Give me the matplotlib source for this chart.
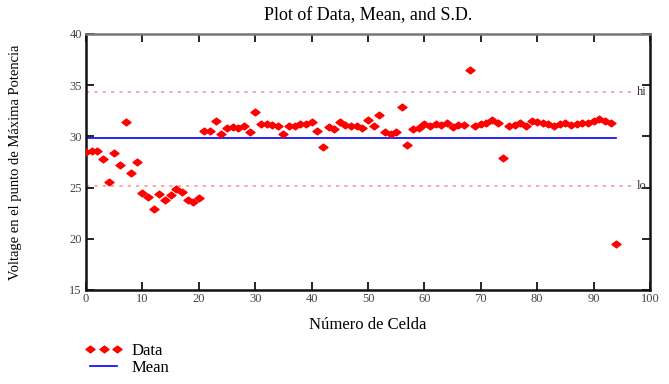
import matplotlib
matplotlib.use("Agg")
import matplotlib.pyplot as plt
import numpy as np
from matplotlib.path import Path

# valores
celda = list(range(95))
voltaje = [28.5, 28.6, 28.6, 27.8, 25.5, 28.4, 27.2, 31.4, 26.4, 27.5,
           24.5, 24.05, 22.9, 24.35, 23.8, 24.25, 24.85, 24.6, 23.8, 23.6,
           23.95, 30.55, 30.5, 31.5, 30.2, 30.85, 30.95, 30.8, 31.0, 30.45,
           32.4, 31.2, 31.2, 31.1, 31.0, 30.2, 31.0, 31.0, 31.2, 31.2,
           31.4, 30.5, 29.0, 30.9, 30.7, 31.45, 31.1, 31.05, 31.05, 30.8,
           31.6, 31.0, 32.1, 30.45, 30.2, 30.45, 32.9, 29.2, 30.7, 30.8,
           31.2, 31.05, 31.2, 31.1, 31.35, 30.95, 31.1, 31.1, 36.5, 31.05,
           31.2, 31.35, 31.6, 31.3, 27.9, 31.05, 31.1, 31.3, 31.05, 31.5,
           31.4, 31.3, 31.2, 31.05, 31.2, 31.35, 31.1, 31.2, 31.3, 31.35,
           31.5, 31.65, 31.5, 31.35, 19.5]
media = 29.85
hi = 34.3
lo = 25.2

xticks = list(range(0, 101, 10))
yticks = list(range(15, 41, 5))

plt.rcParams['font.family'] = ['Liberation Serif', 'DejaVu Serif']

# rombo un poco aplastado como en el original
rombo = Path([(-1, 0), (0, 0.75), (1, 0), (0, -0.75), (-1, 0)],
             [Path.MOVETO, Path.LINETO, Path.LINETO, Path.LINETO, Path.CLOSEPOLY])

fig = plt.figure(figsize=(6.69, 3.84), dpi=100)
ax = fig.add_axes([0.1286, 0.2448, 0.8430, 0.6667])

ax.plot(celda, voltaje, linestyle='none', marker=rombo, markersize=6.5,
        color='#ff0000', label='Data', zorder=3)
ax.plot([celda[0], celda[-1]], [media, media], color='#0000ff', lw=1.2,
        label='Mean', zorder=2)
ax.plot([0, 97.6], [hi, hi], color='#ff9a9a', lw=1.2, linestyle=(0, (2, 3)))
ax.plot([0, 97.6], [lo, lo], color='#ff9a9a', lw=1.2, linestyle=(0, (2, 3)))
ax.text(97.7, hi, 'hi', fontsize=9, va='center', ha='left', color='#333333')
ax.text(97.7, lo, 'lo', fontsize=9, va='center', ha='left', color='#333333')

ax.set_xlim(0, 100)
ax.set_ylim(15, 40)
ax.set_xticks(xticks)
ax.set_yticks(yticks)
ax.tick_params(direction='in', length=6, width=1.2, top=True, right=True,
               labelsize=9, labelcolor='#444444', pad=2)
ax.tick_params(axis='y', labelleft=True, pad=3)

for s in ['left', 'right', 'bottom']:
    ax.spines[s].set_linewidth(1.8)
    ax.spines[s].set_color('#111111')
ax.spines['top'].set_linewidth(1.8)
ax.spines['top'].set_color('#777777')

ax.set_title('Plot of Data, Mean, and S.D.', fontsize=13, pad=10)
ax.set_xlabel('Número de Celda', fontsize=12, labelpad=9)
ax.set_ylabel('Voltage en el punto de Máxima Potencia', fontsize=10.5,
              labelpad=34)

handles, labels = ax.get_legend_handles_labels()
fig.legend(handles, labels, loc='lower left', bbox_to_anchor=(0.115, 0.0),
           frameon=False, fontsize=12, numpoints=3, handlelength=2.2,
           handletextpad=0.6, labelspacing=0.05, borderaxespad=0.1)

fig.savefig('out.png', dpi=100)
